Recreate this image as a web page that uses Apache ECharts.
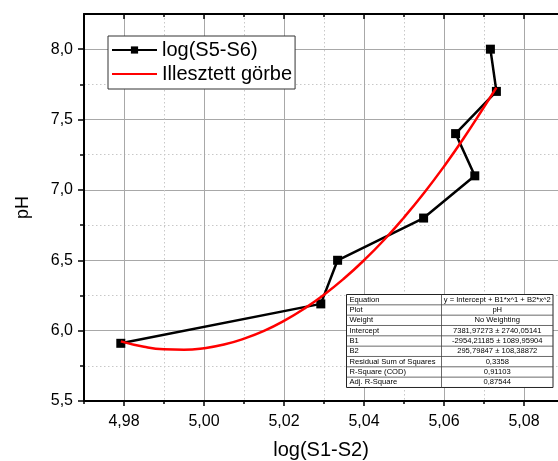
<!DOCTYPE html>
<html>
<head>
<meta charset="utf-8">
<script src="https://cdn.jsdelivr.net/npm/echarts@6/dist/echarts.min.js"></script>
<style>
html,body{margin:0;padding:0;background:#fff;}
#chart{width:558px;height:461px;}
</style>
</head>
<body>
<div id="chart"></div>
<script>
// ---- data ----
var seriesName = 'log(S5-S6)';
var fitName = 'Illesztett görbe';
var xData = [4.9792, 5.0292, 5.0334, 5.0549, 5.0677, 5.0629, 5.0731, 5.0716];
var yData = [5.91, 6.19, 6.50, 6.80, 7.10, 7.40, 7.70, 8.00];
var fitX = [4.9792, 4.985, 4.990, 4.995, 5.000, 5.005, 5.010, 5.015, 5.020, 5.025, 5.030, 5.035, 5.040, 5.045, 5.050, 5.055, 5.060, 5.065, 5.070, 5.0731];
var fitY = [5.924, 5.885, 5.867, 5.864, 5.875, 5.901, 5.943, 5.998, 6.069, 6.155, 6.255, 6.370, 6.500, 6.644, 6.804, 6.978, 7.167, 7.371, 7.589, 7.727];
var xTicks = [4.98, 5.00, 5.02, 5.04, 5.06, 5.08];
var xMinorTicks = [4.97, 4.99, 5.01, 5.03, 5.05, 5.07];
var yTicks = [5.5, 6.0, 6.5, 7.0, 7.5, 8.0];
var yMinorTicks = [5.75, 6.25, 6.75, 7.25, 7.75];
var xName = 'log(S1-S2)';
var yName = 'pH';
var tableLabels = ['Equation', 'Plot', 'Weight', 'Intercept', 'B1', 'B2', 'Residual Sum of Squares', 'R-Square (COD)', 'Adj. R-Square'];
var tableValues = ['y = Intercept + B1*x^1 + B2*x^2', 'pH', 'No Weighting', '7381,97273 ± 2740,05141', '-2954,21185 ± 1089,95904', '295,79847 ± 108,38872', '0,3358', '0,91103', '0,87544'];

// ---- chart ----
var FONT = 'Liberation Sans, Arial, sans-serif';
var xMin = 4.97, xMax = 5.0885, yMin = 5.5, yMax = 8.25;

function pairs(xs, ys) { return xs.map(function (x, i) { return [x, ys[i]]; }); }

var majorGrid = { show: true, lineStyle: { color: '#a8a8a8', width: 1, type: 'solid' } };
var minorGrid = { show: true, lineStyle: { color: '#c8c8c8', width: 1, type: [1.5, 2.5] } };

function xAxisDef(pos, ticks, opts) {
  return Object.assign({
    type: 'value', position: pos, min: xMin, max: xMax, gridIndex: 0,
    axisLine: { show: false, onZero: false },
    axisTick: { show: true, customValues: ticks, inside: pos === 'top', length: 5, lineStyle: { color: '#000', width: 1.5 } },
    axisLabel: { show: false, customValues: ticks },
    splitLine: { show: false }
  }, opts);
}

// table graphics
var tLeft = 346.5, tDiv = 441.5, tRight = 553, tTop = 294.5, rowH = 10.33;
var tableEls = [];
tableEls.push({ type: 'rect', shape: { x: tLeft, y: tTop, width: tRight - tLeft, height: rowH * tableLabels.length }, style: { fill: '#fff', stroke: '#222', lineWidth: 1 }, z: 100 });
for (var i = 0; i < tableLabels.length; i++) {
  var y0 = tTop + i * rowH;
  if (i > 0) tableEls.push({ type: 'line', shape: { x1: tLeft, y1: y0, x2: tRight, y2: y0 }, style: { stroke: '#444', lineWidth: 0.8 }, z: 101 });
  tableEls.push({ type: 'text', x: tLeft + 3, y: y0 + rowH / 2, style: { text: tableLabels[i], font: '7.6px ' + FONT, fill: '#000', verticalAlign: 'middle', align: 'left' }, z: 102 });
  tableEls.push({ type: 'text', x: (tDiv + tRight) / 2, y: y0 + rowH / 2, style: { text: tableValues[i], font: '7.6px ' + FONT, fill: '#000', verticalAlign: 'middle', align: 'center' }, z: 102 });
}
tableEls.push({ type: 'line', shape: { x1: tDiv, y1: tTop, x2: tDiv, y2: tTop + rowH * tableLabels.length }, style: { stroke: '#444', lineWidth: 0.8 }, z: 101 });

var option = {
  animation: false,
  backgroundColor: '#fff',
  textStyle: { fontFamily: FONT },
  grid: { left: 84, top: 14, right: 0, bottom: 60, containLabel: false, outerBoundsMode: 'none' },
  legend: {
    left: 108, top: 36, orient: 'vertical',
    backgroundColor: '#fff', borderColor: '#333', borderWidth: 1, borderRadius: 0,
    padding: [4, 3, 5, 3], itemGap: 4, itemWidth: 45, itemHeight: 9,
    textStyle: { fontSize: 20, color: '#000', fontFamily: FONT },
    data: [{ name: seriesName }, { name: fitName, itemStyle: { opacity: 0 } }]
  },
  xAxis: [
    xAxisDef('bottom', xTicks, {
      axisLine: { show: true, onZero: false, lineStyle: { color: '#000', width: 2 } },
      axisLabel: { show: true, customValues: xTicks, margin: 13, fontSize: 16, color: '#000', fontFamily: FONT,
        formatter: function (v) { return v.toFixed(2).replace('.', ','); } },
      splitLine: majorGrid,
      name: xName, nameLocation: 'middle', nameGap: 39,
      nameTextStyle: { fontSize: 20, color: '#000', fontFamily: FONT }
    }),
    xAxisDef('bottom', xMinorTicks, { axisTick: { show: true, customValues: xMinorTicks, length: 3, lineStyle: { color: '#000', width: 1.5 } }, splitLine: minorGrid }),
    xAxisDef('top', xTicks, { axisLine: { show: true, onZero: false, lineStyle: { color: '#000', width: 2 } } }),
    xAxisDef('top', xMinorTicks, { axisTick: { show: true, customValues: xMinorTicks, inside: true, length: 3, lineStyle: { color: '#000', width: 1.5 } } })
  ],
  yAxis: [
    {
      type: 'value', position: 'left', min: yMin, max: yMax,
      axisLine: { show: true, onZero: false, lineStyle: { color: '#000', width: 2 } },
      axisTick: { show: true, customValues: yTicks, length: 6, lineStyle: { color: '#000', width: 1.5 } },
      axisLabel: { show: true, customValues: yTicks, margin: 11, fontSize: 16, color: '#000', fontFamily: FONT,
        formatter: function (v) { return v.toFixed(1).replace('.', ','); } },
      splitLine: majorGrid,
      name: yName, nameLocation: 'middle', nameGap: 52,
      nameTextStyle: { fontSize: 18, color: '#000', fontFamily: FONT }
    },
    {
      type: 'value', position: 'left', min: yMin, max: yMax,
      axisLine: { show: false, onZero: false },
      axisTick: { show: true, customValues: yMinorTicks, length: 4, lineStyle: { color: '#000', width: 1.5 } },
      axisLabel: { show: false, customValues: yMinorTicks },
      splitLine: minorGrid
    }
  ],
  series: [
    {
      name: seriesName, type: 'line', xAxisIndex: 0, yAxisIndex: 0,
      data: pairs(xData, yData),
      symbol: 'rect', symbolSize: 9,
      lineStyle: { color: '#000', width: 2.5 },
      itemStyle: { color: '#000' },
      z: 3
    },
    {
      name: fitName, type: 'line', xAxisIndex: 0, yAxisIndex: 0,
      data: pairs(fitX, fitY),
      symbol: 'none', showSymbol: false, smooth: true,
      lineStyle: { color: '#ff0000', width: 2.5 },
      itemStyle: { color: '#ff0000' },
      z: 4
    }
  ],
  graphic: tableEls
};

var chart = echarts.init(document.getElementById('chart'), null, { renderer: 'canvas' });
chart.setOption(option);
</script>
</body>
</html>
